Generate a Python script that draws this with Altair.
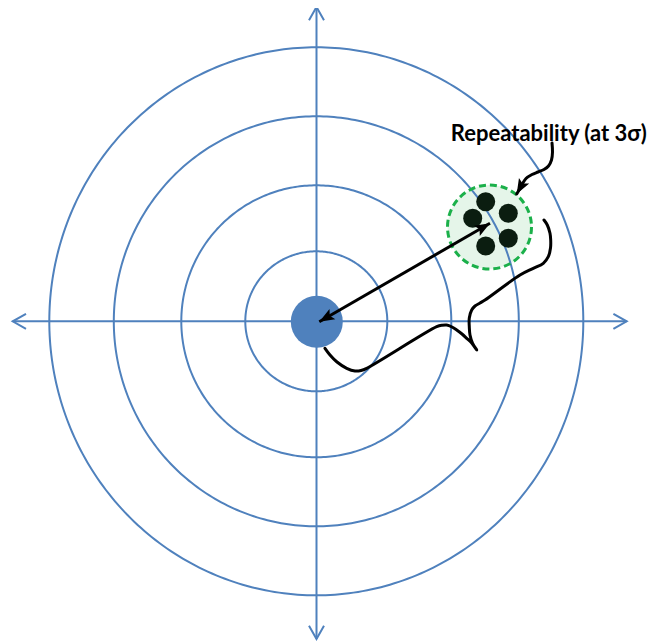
import math
import altair as alt
import pandas as pd

# ---- data (pixel-like units, origin at target centre, y pointing up) ----
BLUE = "#4f81bd"
ring_rx = [71, 135, 202.5, 267]
ring_ry = [70, 136, 205, 274]
axis_x_ends = [-303.6, 310.4]
axis_y_ends = [-317.7, 314.3]
centre_dot = (0.5, -0.5)
group_centre = (173.2, 94.3)
group_radius = 42
shots_x = [169.4, 192.0, 156.4, 192.0, 169.4]
shots_y = [119.6, 108.0, 103.0, 83.0, 75.3]
accuracy_arrow_x = [3.0, 173.7]
accuracy_arrow_y = [-0.4, 98.0]
brace_x = [8.7, 13.7, 20.7, 30.4, 38.7, 44.7, 50.4, 120.4, 125.7, 130.4, 135.7, 140.4,
           145.7, 150.4, 155.4, 160.4, 156.2, 153.7, 153.0, 153.0, 155.4, 158.7, 163.7,
           168.7, 203.7, 217.0, 227.0, 232.0, 234.2, 234.4, 233.7, 231.0, 227.7]
brace_y = [-27.0, -33.7, -40.7, -47.0, -49.7, -49.2, -47.0, -5.4, -3.9, -3.7, -5.7, -8.7,
           -12.7, -17.0, -21.7, -28.7, -21.7, -13.7, -5.7, 3.3, 11.3, 15.3, 18.3,
           21.3, 46.3, 53.0, 58.0, 64.6, 73.3, 81.3, 88.0, 96.3, 101.3]
label_arrow_x = [235.7, 236.2, 235.2, 232.2, 227.7, 221.7, 215.7, 209.7, 205.7, 202.7, 200.4]
label_arrow_y = [178.3, 169.3, 161.3, 155.3, 151.8, 149.3, 146.8, 142.8, 136.8, 131.3, 127.3]
label_text = "Repeatability (at 3σ)"
label_pos = (232.5, 180.6)

# ---- scales: 1 unit = 1 px ----
W, H = 640, 633
xs = alt.Scale(domain=[-308.3, -308.3 + W], nice=False, zero=False)
ys = alt.Scale(domain=[313.3 - H, 313.3], nice=False, zero=False)


def enc(**kw):
    return dict(x=alt.X("x:Q", scale=xs, axis=None), y=alt.Y("y:Q", scale=ys, axis=None), **kw)


# rings
rows = []
for i, (rx, ry) in enumerate(zip(ring_rx, ring_ry)):
    for k in range(361):
        t = math.radians(k)
        rows.append({"ring": i, "k": k, "x": rx * math.cos(t), "y": ry * math.sin(t)})
rings_df = pd.DataFrame(rows)

axes_df = pd.DataFrame([
    {"ax": "h", "k": 0, "x": axis_x_ends[0], "y": 0.0},
    {"ax": "h", "k": 1, "x": axis_x_ends[1], "y": 0.0},
    {"ax": "v", "k": 0, "x": 0.2, "y": axis_y_ends[0]},
    {"ax": "v", "k": 1, "x": 0.2, "y": axis_y_ends[1]},
])

# chevrons at the four axis tips
tips = [(axis_x_ends[0], 0.0, -1, 0), (axis_x_ends[1], 0.0, 1, 0),
        (0.2, axis_y_ends[0], 0, -1), (0.2, axis_y_ends[1], 0, 1)]
chev = []
for j, (tx, ty, dx, dy) in enumerate(tips):
    px, py = -dy, dx
    back, side = 13.3, 7.5
    chev.append({"c": j, "k": 0, "x": tx - dx * back + px * side, "y": ty - dy * back + py * side})
    chev.append({"c": j, "k": 1, "x": tx, "y": ty})
    chev.append({"c": j, "k": 2, "x": tx - dx * back - px * side, "y": ty - dy * back - py * side})
chev_df = pd.DataFrame(chev)

dot_df = pd.DataFrame([{"x": centre_dot[0], "y": centre_dot[1]}])
group_df = pd.DataFrame([{"x": group_centre[0], "y": group_centre[1]}])
shots_df = pd.DataFrame({"x": shots_x, "y": shots_y})
acc_df = pd.DataFrame({"x": accuracy_arrow_x, "y": accuracy_arrow_y, "k": [0, 1]})
brace_df = pd.DataFrame({"x": brace_x, "y": brace_y, "k": list(range(len(brace_x)))})
lab_df = pd.DataFrame({"x": label_arrow_x, "y": label_arrow_y, "k": list(range(len(label_arrow_x)))})
text_df = pd.DataFrame([{"x": label_pos[0], "y": label_pos[1], "t": label_text}])


def ang(dx, dy):
    return math.degrees(math.atan2(dx, dy)) % 360


heads_df = pd.DataFrame([
    {"x": accuracy_arrow_x[1], "y": accuracy_arrow_y[1],
     "a": ang(accuracy_arrow_x[1] - accuracy_arrow_x[0], accuracy_arrow_y[1] - accuracy_arrow_y[0])},
    {"x": accuracy_arrow_x[0], "y": accuracy_arrow_y[0],
     "a": ang(accuracy_arrow_x[0] - accuracy_arrow_x[1], accuracy_arrow_y[0] - accuracy_arrow_y[1])},
    {"x": label_arrow_x[-1], "y": label_arrow_y[-1],
     "a": ang(label_arrow_x[-1] - label_arrow_x[-3], label_arrow_y[-1] - label_arrow_y[-3])},
])
HEAD = "M0,0L-0.85,2.2L0,1.75L0.85,2.2Z"

green_fill = alt.Chart(group_df).mark_point(
    filled=True, color="#e5f5e9", opacity=1, size=(2 * group_radius) ** 2
).encode(**enc())
rings = alt.Chart(rings_df).mark_line(color=BLUE, strokeWidth=2).encode(
    **enc(detail="ring:N", order="k:Q"))
axes = alt.Chart(axes_df).mark_line(color=BLUE, strokeWidth=2).encode(
    **enc(detail="ax:N", order="k:Q"))
chevrons = alt.Chart(chev_df).mark_line(color=BLUE, strokeWidth=2, strokeJoin="miter").encode(
    **enc(detail="c:N", order="k:Q"))
dot = alt.Chart(dot_df).mark_point(filled=True, color=BLUE, opacity=1, size=52 ** 2).encode(**enc())
green_ring = alt.Chart(group_df).mark_point(
    filled=False, stroke="#1bb04a", strokeWidth=3, strokeDash=[7, 4], opacity=1,
    size=(2 * group_radius) ** 2).encode(**enc())
shots = alt.Chart(shots_df).mark_point(filled=True, color="#0b1d10", opacity=1, size=19 ** 2).encode(**enc())
acc = alt.Chart(acc_df).mark_line(color="black", strokeWidth=3).encode(**enc(order="k:Q"))
brace = alt.Chart(brace_df).mark_line(color="black", strokeWidth=3, interpolate="catmull-rom",
                                      strokeCap="round").encode(**enc(order="k:Q"))
lab = alt.Chart(lab_df).mark_line(color="black", strokeWidth=3, interpolate="catmull-rom",
                                  strokeCap="round").encode(**enc(order="k:Q"))
heads = alt.Chart(heads_df).mark_point(shape=HEAD, filled=True, color="black", opacity=1, size=190).encode(
    **enc(angle=alt.Angle("a:Q", scale=None)))
text = alt.Chart(text_df).mark_text(font="Lato", fontWeight="bold", fontSize=22, align="center",
                                    baseline="alphabetic", color="black").encode(**enc(text="t:N"))

chart = alt.layer(green_fill, rings, axes, chevrons, dot, green_ring, shots, acc, brace, lab, heads, text).properties(
    width=W, height=H, padding=0,
    autosize=alt.AutoSizeParams(type="none"),
    background="white",
).configure_view(stroke=None)

chart.save("out.html", embed_options={"renderer": "svg", "actions": False})
